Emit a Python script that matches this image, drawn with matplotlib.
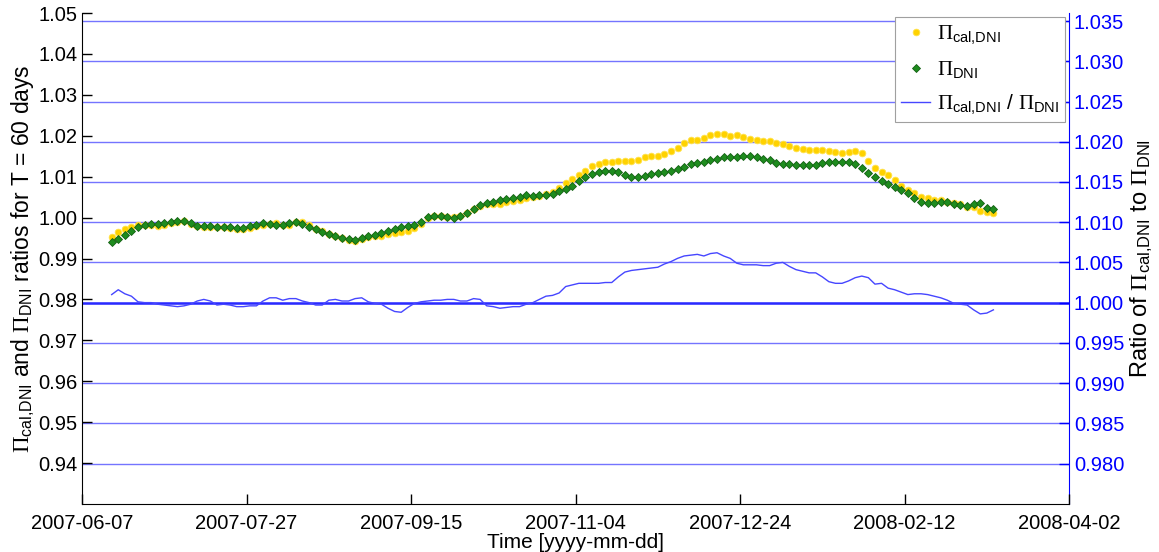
import datetime as dt
import numpy as np
import matplotlib
matplotlib.use('Agg')
import matplotlib.pyplot as plt
import matplotlib.dates as mdates

plt.rcParams['font.family'] = ['Liberation Sans', 'DejaVu Sans']
plt.rcParams['mathtext.fontset'] = 'custom'
plt.rcParams['mathtext.rm'] = 'Liberation Serif'
plt.rcParams['mathtext.it'] = 'Liberation Serif:italic'
plt.rcParams['mathtext.sf'] = 'Liberation Sans'

# sample days (every 2nd day) counted from 2007-06-07
start = dt.datetime(2007, 6, 7)
day_offsets = list(range(9, 278, 2))

# Pi_cal,DNI (yellow)
pi_cal = [
    0.9952, 0.9965, 0.9972, 0.9978, 0.9981, 0.9982, 0.9981, 0.9980, 0.9982, 0.9986,
    0.9989, 0.9992, 0.9985, 0.9980, 0.9978, 0.9978, 0.9977, 0.9976, 0.9975, 0.9973,
    0.9971, 0.9975, 0.9980, 0.9983, 0.9984, 0.9986, 0.9983, 0.9981, 0.9990, 0.9988,
    0.9981, 0.9973, 0.9966, 0.9959, 0.9954, 0.9950, 0.9946, 0.9944, 0.9948, 0.9952,
    0.9954, 0.9956, 0.9960, 0.9963, 0.9964, 0.9967, 0.9975, 0.9985, 1.0000, 1.0005,
    1.0004, 1.0002, 1.0001, 1.0005, 1.0012, 1.0020, 1.0029, 1.0033, 1.0033, 1.0034,
    1.0037, 1.0041, 1.0044, 1.0047, 1.0050, 1.0053, 1.0057, 1.0063, 1.0073, 1.0084,
    1.0094, 1.0105, 1.0115, 1.0126, 1.0131, 1.0135, 1.0137, 1.0138, 1.0139, 1.0139,
    1.0141, 1.0147, 1.0151, 1.0151, 1.0155, 1.0162, 1.0170, 1.0183, 1.0189, 1.0190,
    1.0194, 1.0201, 1.0205, 1.0204, 1.0200, 1.0202, 1.0197, 1.0193, 1.0190, 1.0188,
    1.0186, 1.0183, 1.0181, 1.0175, 1.0170, 1.0167, 1.0166, 1.0165, 1.0164, 1.0163,
    1.0160, 1.0158, 1.0161, 1.0162, 1.0158, 1.0138, 1.0122, 1.0111, 1.0103, 1.0093,
    1.0078, 1.0068, 1.0059, 1.0051, 1.0047, 1.0044, 1.0042, 1.0039, 1.0036, 1.0033,
    1.0027, 1.0025, 1.0017, 1.0013, 1.0011,
]

# Pi_DNI (green)
pi_dni = [
    0.9940, 0.9948, 0.9957, 0.9967, 0.9977, 0.9982, 0.9984, 0.9985, 0.9986, 0.9989,
    0.9992, 0.9992, 0.9987, 0.9979, 0.9979, 0.9979, 0.9978, 0.9977, 0.9976, 0.9975,
    0.9974, 0.9979, 0.9983, 0.9986, 0.9984, 0.9982, 0.9983, 0.9987, 0.9988, 0.9984,
    0.9977, 0.9971, 0.9965, 0.9960, 0.9955, 0.9951, 0.9947, 0.9946, 0.9950, 0.9954,
    0.9957, 0.9962, 0.9967, 0.9973, 0.9977, 0.9980, 0.9983, 0.9990, 1.0001, 1.0005,
    1.0003, 1.0001, 1.0000, 1.0004, 1.0012, 1.0022, 1.0031, 1.0035, 1.0039, 1.0042,
    1.0045, 1.0048, 1.0051, 1.0054, 1.0052, 1.0054, 1.0056, 1.0058, 1.0064, 1.0069,
    1.0078, 1.0089, 1.0098, 1.0106, 1.0111, 1.0114, 1.0114, 1.0111, 1.0104, 1.0100,
    1.0100, 1.0102, 1.0107, 1.0109, 1.0112, 1.0115, 1.0118, 1.0123, 1.0131, 1.0133,
    1.0136, 1.0141, 1.0144, 1.0147, 1.0148, 1.0149, 1.0150, 1.0151, 1.0147, 1.0143,
    1.0140, 1.0134, 1.0131, 1.0130, 1.0129, 1.0128, 1.0128, 1.0129, 1.0133, 1.0135,
    1.0137, 1.0137, 1.0135, 1.0132, 1.0121, 1.0109, 1.0098, 1.0090, 1.0083, 1.0075,
    1.0067, 1.0060, 1.0049, 1.0039, 1.0036, 1.0035, 1.0037, 1.0038, 1.0034, 1.0030,
    1.0029, 1.0034, 1.0035, 1.0024, 1.0021,
]

# Pi_cal,DNI / Pi_DNI (blue, right axis)
ratio = [
    1.0010, 1.0016, 1.0011, 1.0008, 1.0001, 1.0000, 1.0000, 0.9998, 0.9997, 0.9996,
    0.9995, 0.9996, 0.9998, 1.0002, 1.0004, 1.0002, 0.9997, 0.9998, 0.9997, 0.9995,
    0.9995, 0.9996, 0.9996, 1.0002, 1.0006, 1.0006, 1.0003, 1.0005, 1.0005, 1.0002,
    1.0000, 0.9997, 0.9997, 1.0003, 1.0004, 1.0002, 1.0002, 1.0005, 1.0006, 1.0001,
    0.9999, 0.9998, 0.9993, 0.9989, 0.9988, 0.9994, 0.9999, 1.0001, 1.0002, 1.0003,
    1.0003, 1.0004, 1.0004, 1.0002, 1.0002, 1.0005, 1.0004, 0.9996, 0.9995, 0.9993,
    0.9994, 0.9995, 0.9995, 0.9998, 1.0000, 1.0004, 1.0008, 1.0009, 1.0012, 1.0020,
    1.0022, 1.0024, 1.0024, 1.0024, 1.0024, 1.0025, 1.0025, 1.0032, 1.0038, 1.0040,
    1.0041, 1.0042, 1.0043, 1.0044, 1.0048, 1.0051, 1.0055, 1.0058, 1.0059, 1.0060,
    1.0058, 1.0061, 1.0062, 1.0058, 1.0055, 1.0049, 1.0047, 1.0047, 1.0047, 1.0046,
    1.0046, 1.0049, 1.0050, 1.0045, 1.0041, 1.0039, 1.0037, 1.0037, 1.0032, 1.0026,
    1.0024, 1.0024, 1.0027, 1.0031, 1.0033, 1.0031, 1.0023, 1.0024, 1.0018, 1.0016,
    1.0013, 1.0010, 1.0011, 1.0011, 1.0010, 1.0008, 1.0006, 1.0003, 0.9999, 0.9998,
    0.9997, 0.9991, 0.9986, 0.9987, 0.9991,
]

left_ticks = [0.94, 0.95, 0.96, 0.97, 0.98, 0.99, 1.00, 1.01, 1.02, 1.03, 1.04, 1.05]
right_ticks = [0.980, 0.985, 0.990, 0.995, 1.000, 1.005, 1.010, 1.015,
               1.020, 1.025, 1.030, 1.035]

dates = [start + dt.timedelta(days=d) for d in day_offsets]
x_ticks = [start + dt.timedelta(days=50 * k) for k in range(7)]

fig = plt.figure(figsize=(11.59, 5.52), dpi=100)
ax = fig.add_axes([0.0708, 0.087, 0.8516, 0.8894])
ax2 = ax.twinx()

# right axis: grid and ratio line
ax2.set_ylim(0.97497, 1.0360)
ax2.set_yticks(right_ticks)
ax2.set_yticklabels(['%.3f' % t for t in right_ticks])
for t in right_ticks:
    ax2.axhline(t, color='#7474ff', lw=1.0, zorder=0)
ax2.axhline(1.0, color='#2a2aff', lw=1.8, zorder=1)
l3, = ax2.plot(dates, ratio, color='#4646ff', lw=1.0, zorder=2)

# left axis on top so markers sit over the grid
ax.set_zorder(ax2.get_zorder() + 1)
ax.patch.set_visible(False)
l1, = ax.plot(dates, pi_cal, 'o', ms=4.8, mfc='#ffd200', mec='#ffe24a',
              mew=0.6, ls='none')
l2, = ax.plot(dates, pi_dni, 'D', ms=3.6, mfc='#1e8c1e', mec='#136013',
              mew=0.6, ls='none')

ax.set_ylim(0.93, 1.05)
ax.set_yticks(left_ticks)
ax.set_yticklabels(['%.2f' % t for t in left_ticks])
ax.set_xlim(x_ticks[0], x_ticks[-1])
ax.set_xticks(x_ticks)
ax.xaxis.set_major_formatter(mdates.DateFormatter('%Y-%m-%d'))

ax.tick_params(direction='in', length=7, width=1, labelsize=14.5, colors='black')
ax.tick_params(axis='x', pad=7)
ax2.tick_params(direction='in', length=7, width=1, labelsize=14.5,
                colors='#0000ff')
for a in (ax, ax2):
    a.spines['top'].set_visible(False)
ax.spines['right'].set_visible(False)
ax2.spines['left'].set_visible(False)
ax2.spines['bottom'].set_visible(False)
ax2.spines['right'].set_color('#0000ff')

ax.set_xlabel('Time [yyyy-mm-dd]', fontsize=15, labelpad=0)
ax.set_ylabel(r'$\Pi_{\mathsf{cal{,}DNI}}$ and $\Pi_{\mathsf{DNI}}$ ratios for T = 60 days',
              fontsize=16.5, labelpad=1)
ax2.set_ylabel(r'Ratio of $\Pi_{\mathsf{cal{,}DNI}}$ to $\Pi_{\mathsf{DNI}}$',
               fontsize=17, color='black', labelpad=3)

leg = ax.legend([l1, l2, l3],
                [r'$\Pi_{\mathsf{cal{,}DNI}}$', r'$\Pi_{\mathsf{DNI}}$',
                 r'$\Pi_{\mathsf{cal{,}DNI}}$ / $\Pi_{\mathsf{DNI}}$'],
                loc='upper right', fontsize=15, fancybox=False,
                framealpha=1, edgecolor='#a0a0a0', borderaxespad=0.2,
                handlelength=1.4, handletextpad=0.3, labelspacing=0.6,
                borderpad=0.3)
leg.get_frame().set_linewidth(0.8)

fig.savefig('out.png', dpi=100)
